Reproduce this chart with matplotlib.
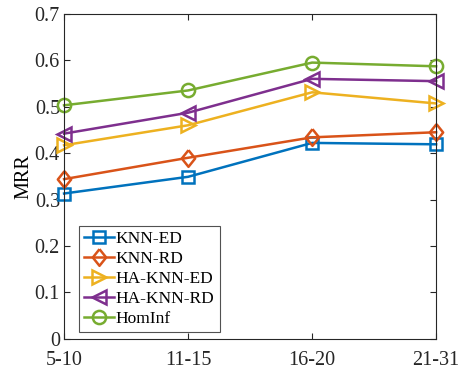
import matplotlib.pyplot as plt

# data
groups = ['5-10', '11-15', '16-20', '21-31']
knn_ed = [0.313, 0.349, 0.422, 0.419]
knn_rd = [0.344, 0.390, 0.434, 0.445]
ha_knn_ed = [0.417, 0.460, 0.531, 0.507]
ha_knn_rd = [0.442, 0.487, 0.560, 0.555]
hominf = [0.503, 0.535, 0.595, 0.587]

plt.rcParams['font.family'] = ['Liberation Serif', 'DejaVu Serif']
plt.rcParams['font.size'] = 14.5

fig = plt.figure(figsize=(4.61, 3.74), dpi=100)
ax = fig.add_axes([0.139, 0.094, 0.807, 0.869])

diamond = [(0, 1), (0.8, 0), (0, -1), (-0.8, 0), (0, 1)]
x = range(len(groups))
series = [
    (knn_ed, 'KNN-ED', '#0072BD', 's', 8.5),
    (knn_rd, 'KNN-RD', '#D95319', diamond, 12),
    (ha_knn_ed, 'HA-KNN-ED', '#EDB120', '>', 10),
    (ha_knn_rd, 'HA-KNN-RD', '#7E2F8E', '<', 10),
    (hominf, 'HomInf', '#77AC30', 'o', 9.5),
]
for vals, name, col, mk, ms in series:
    ax.plot(x, vals, color=col, marker=mk, markersize=ms, markerfacecolor='none',
            markeredgewidth=1.8, linewidth=1.8, label=name, clip_on=False)

ax.set_xlim(0, 3)
ax.set_ylim(0, 0.7)
ax.set_xticks(list(x))
ax.set_xticklabels(groups)
ax.set_yticks([0, 0.1, 0.2, 0.3, 0.4, 0.5, 0.6, 0.7])
ax.set_yticklabels(['0', '0.1', '0.2', '0.3', '0.4', '0.5', '0.6', '0.7'])
ax.set_ylabel('MRR', labelpad=1)

ax.tick_params(direction='in', top=True, right=True, colors='#262626', length=4)
ax.tick_params(axis='x', pad=9)
ax.tick_params(axis='y', pad=3)
for s in ax.spines.values():
    s.set_color('#262626')
    s.set_linewidth(0.8)

leg = ax.legend(loc='lower left', bbox_to_anchor=(0.025, 0.005), frameon=True, fancybox=False,
                edgecolor='#262626', handlelength=1.75, handletextpad=0.1, labelspacing=0.22,
                borderpad=0.3, borderaxespad=0.3, fontsize=12.5)
leg.get_frame().set_linewidth(0.8)

fig.savefig('out.png', dpi=100)
